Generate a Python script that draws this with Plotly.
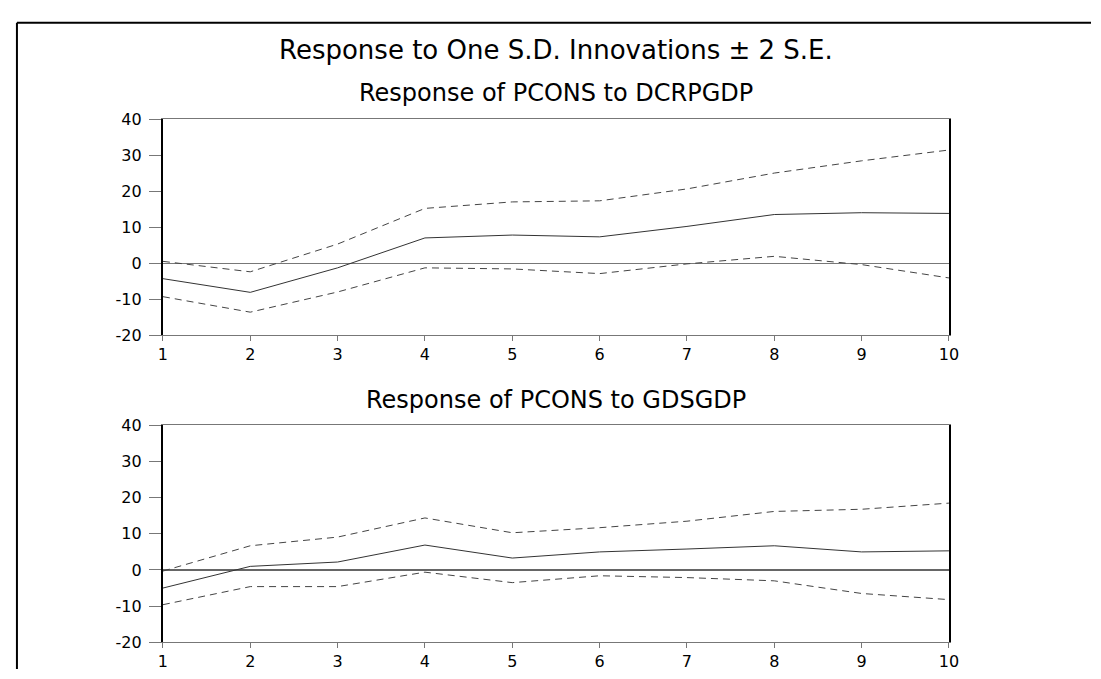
import plotly.graph_objects as go

periods = [1, 2, 3, 4, 5, 6, 7, 8, 9, 10]

# Response of PCONS to DCRPGDP
resp1 = [-4.3, -8.1, -1.3, 7.0, 7.8, 7.3, 10.2, 13.5, 14.0, 13.8]
upper1 = [0.5, -2.4, 5.3, 15.2, 17.0, 17.3, 20.6, 25.0, 28.4, 31.4]
lower1 = [-9.3, -13.6, -8.0, -1.3, -1.6, -2.9, -0.2, 1.9, -0.4, -4.1]

# Response of PCONS to GDSGDP
resp2 = [-5.0, 1.0, 2.2, 6.9, 3.3, 5.0, 5.8, 6.7, 5.0, 5.3]
upper2 = [-0.3, 6.7, 9.1, 14.4, 10.3, 11.7, 13.5, 16.2, 16.8, 18.5]
lower2 = [-9.6, -4.6, -4.6, -0.6, -3.5, -1.6, -2.1, -3.0, -6.5, -8.2]

y_tickvals = [-20, -10, 0, 10, 20, 30, 40]
y_ticktext = ["-20", "-10", "0", "10", "20", "30", "40"]
x_ticktext = ["1", "2", "3", "4", "5", "6", "7", "8", "9", "10"]

main_title = "Response to One S.D. Innovations \u00b1 2 S.E."
sub_titles = ["Response of PCONS to DCRPGDP", "Response of PCONS to GDSGDP"]

FONT = "DejaVu Sans"
OFF = 8  # default page body margin
W, H = 1101 - OFF, 679 - OFF
LEFT, RIGHT = 160, 957
CX = (LEFT + RIGHT) / 2


def px(x):
    return (x - OFF) / W


def py(y):
    return 1 - (y - OFF) / H


fig = go.Figure()

panels = [(resp1, upper1, lower1, ""), (resp2, upper2, lower2, "2")]
for resp, up, lo, sfx in panels:
    xa = "x" + sfx
    ya = "y" + sfx
    for series in (up, lo):
        fig.add_trace(go.Scatter(x=periods, y=series, mode="lines",
                                 line=dict(color="#444444", width=1, dash="7px,5px"),
                                 xaxis=xa, yaxis=ya, showlegend=False, hoverinfo="skip"))
    fig.add_trace(go.Scatter(x=periods, y=resp, mode="lines",
                             line=dict(color="#333333", width=1),
                             xaxis=xa, yaxis=ya, showlegend=False, hoverinfo="skip"))


def xaxis_cfg(anchor):
    return dict(domain=[px(LEFT), px(RIGHT)], range=[1, 10], anchor=anchor,
                tickvals=periods, ticktext=x_ticktext, ticks="outside", ticklen=5,
                tickcolor="#777777", tickwidth=1, showline=True, mirror=True,
                linecolor="#777777", linewidth=1, showgrid=False, zeroline=False,
                ticklabelstandoff=0,
                tickfont=dict(family=FONT, size=16, color="black"), fixedrange=True)


def yaxis_cfg(anchor, top, bottom, zw, zc):
    return dict(domain=[py(bottom), py(top)], range=[-20, 40], anchor=anchor,
                tickvals=y_tickvals, ticktext=y_ticktext, ticks="outside", ticklen=12,
                tickcolor="#777777", tickwidth=1, showline=True, mirror=True,
                linecolor="black", linewidth=2, showgrid=False, zeroline=True,
                zerolinecolor=zc, zerolinewidth=zw, ticklabelstandoff=4,
                tickfont=dict(family=FONT, size=16, color="black"), fixedrange=True)


fig.update_layout(
    width=W, height=H, margin=dict(l=0, r=0, t=0, b=0),
    paper_bgcolor="white", plot_bgcolor="white",
    xaxis=xaxis_cfg("y"), yaxis=yaxis_cfg("x", 113, 335.5, 1, "#777777"),
    xaxis2=xaxis_cfg("y2"), yaxis2=yaxis_cfg("x2", 428.3, 651.5, 2, "#666666"),
    annotations=[
        dict(text=main_title, x=px(CX), y=py(42), xref="paper", yref="paper",
             showarrow=False, xanchor="center", yanchor="middle",
             font=dict(family=FONT, size=26, color="black")),
        dict(text=sub_titles[0], x=px(CX), y=py(86), xref="paper", yref="paper",
             showarrow=False, xanchor="center", yanchor="middle",
             font=dict(family=FONT, size=24, color="black")),
        dict(text=sub_titles[1], x=px(CX), y=py(402), xref="paper", yref="paper",
             showarrow=False, xanchor="center", yanchor="middle",
             font=dict(family=FONT, size=24, color="black")),
    ],
    shapes=[
        dict(type="line", xref="paper", yref="paper", x0=px(12), x1=1.0,
             y0=py(14), y1=py(14), line=dict(color="black", width=2)),
        dict(type="line", xref="paper", yref="paper", x0=px(12), x1=px(12),
             y0=py(14), y1=0, line=dict(color="black", width=2)),
    ],
)

fig.write_html("out.html")
